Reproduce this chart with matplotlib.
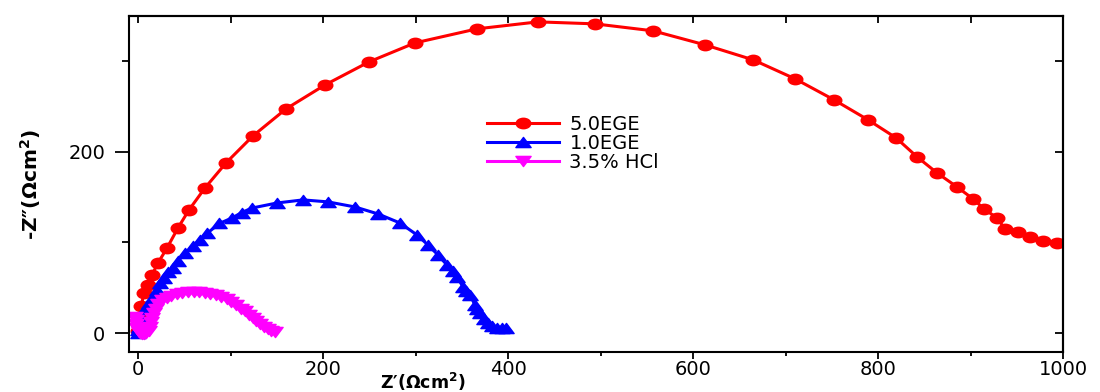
import numpy as np
import matplotlib
matplotlib.use('Agg')
import matplotlib.pyplot as plt
from matplotlib.path import Path
from matplotlib.transforms import Affine2D
from matplotlib.ticker import MultipleLocator

plt.rcParams['font.family'] = ['DejaVu Sans']

# 5.0EGE
x_red = [0, 1, 3, 3.5, 6.5, 10.8, 15.1, 21.6, 31.4, 43.2, 55.1, 72.4, 95.1, 124.3,
         160, 202.2, 249.7, 299.5, 366.5, 432.4, 494, 556.8, 613, 664.9, 710.3,
         752.4, 789.2, 819.5, 842.2, 863.8, 885.4, 902.7, 914.6, 928.6, 937.3,
         951.4, 964.3, 978.4, 993.5]
y_red = [2, 10, 18, 30, 44.2, 53, 64.1, 77.3, 93.9, 116, 135.9, 160.2, 187.8, 217.7,
         247.5, 274, 299.4, 320.4, 335.9, 343.6, 341.4, 333.7, 318.2, 301.7, 280.7,
         257.5, 235.4, 215.5, 194.5, 176.8, 161.3, 148.1, 137, 127.1, 114.9,
         111.6, 106.1, 101.7, 99.4]

# 1.0EGE
x_blue = [0, 0.5, 1, 2, 4, 7.6, 12, 16.2, 20, 23.8, 28, 32.4, 38, 43.2, 51, 59.5, 67,
          74.6, 88, 101.6, 112, 123.2, 150.3, 178.4, 205.4, 234.6, 259.5, 283.2,
          301.6, 313.5, 324.3, 334, 340, 344.9, 351.4, 355, 358.9, 364.3, 367,
          369.7, 374, 378.4, 383, 388, 393.5, 398]
y_blue = [0, 3, 7, 11, 15, 26, 33, 40, 47.5, 55, 61, 67, 72, 80, 88, 96, 103,
          110, 121, 127, 133, 138, 143.6, 147, 144.8, 139.2, 131.5, 121.5,
          108.3, 97.2, 86.2, 75.1, 68, 61.9, 50.8, 46, 42, 30.9, 26, 22.1, 16,
          11, 8, 6, 5.5, 5]

# 3.5% HCl
x_pink = [-3, -2.5, -2, -1, 0, 1, 2, 4, 6, 9, 12, 13.5, 14.5, 15.5, 17, 19, 22, 26,
          31, 36, 42, 48, 54, 60, 66, 72, 78, 84, 90, 96, 101, 106, 111, 116,
          120, 124, 128, 132, 136, 140, 144, 148]
y_pink = [18, 14, 10, 6, 3, 1, 0, -1, -1, 0, 2, 7, 12, 17, 22, 27, 32, 36,
          39, 41, 43, 44, 45, 45, 45, 44, 43, 42, 40, 37, 34, 31, 27, 24,
          20, 17, 13, 10, 7, 4, 2, 1]

labels = ['5.0EGE', '1.0EGE', '3.5% HCl']

# markers in the original look stretched sideways
ellipse = Path.unit_circle().transformed(Affine2D().scale(1.4, 1.0))
tri_up = Path([(0, 0.8), (-1.2, -0.8), (1.2, -0.8), (0, 0.8)], closed=True)
tri_down = Path([(0, -0.8), (-1.2, 0.8), (1.2, 0.8), (0, -0.8)], closed=True)

fig = plt.figure(figsize=(11, 3.92), dpi=100)
ax = fig.add_axes([0.1173, 0.102, 0.8491, 0.857])

ax.plot(x_red, y_red, c='#ff0000', lw=2.2, marker=ellipse, ms=10.5, label=labels[0])
ax.plot(x_blue, y_blue, c='#0000ff', lw=2.2, marker=tri_up, ms=11, label=labels[1])
ax.plot(x_pink, y_pink, c='#ff00ff', lw=2.2, marker=tri_down, ms=11, label=labels[2])

ax.set_xlim(-9.7, 1000)
ax.set_ylim(-21, 350)

ax.xaxis.set_major_locator(MultipleLocator(200))
ax.xaxis.set_minor_locator(MultipleLocator(100))
ax.yaxis.set_major_locator(MultipleLocator(200))
ax.yaxis.set_minor_locator(MultipleLocator(100))

for s in ax.spines.values():
    s.set_linewidth(1.5)

ax.tick_params(axis='x', which='major', direction='out', length=5, width=1.3,
               labelsize=14, pad=1)
ax.tick_params(axis='x', which='minor', direction='out', length=3, width=1.3)
ax.tick_params(axis='y', which='major', direction='out', length=10, width=1.3,
               labelsize=14, pad=7)
ax.tick_params(axis='y', which='minor', direction='out', length=5, width=1.3)

# inward ticks on top and right
top = ax.secondary_xaxis('top')
top.xaxis.set_major_locator(MultipleLocator(100))
top.tick_params(direction='in', length=5, width=1.3, labeltop=False)
top.spines['top'].set_linewidth(1.5)
right = ax.secondary_yaxis('right')
right.yaxis.set_major_locator(MultipleLocator(100))
right.tick_params(direction='in', length=6, width=1.3, labelright=False)
right.spines['right'].set_linewidth(1.5)

# x label squeezed between the 200 and 400 tick labels, there is no room below them
ax.set_xlabel("Z\u2032(\u03a9cm$^\\mathbf{2}$)", fontsize=12.5, fontweight='bold')
ax.xaxis.set_label_coords(0.315, -0.056)
ax.set_ylabel("-Z\u2033(\u03a9cm$^\\mathbf{2}$)", fontsize=14.5, fontweight='bold')
ax.yaxis.set_label_coords(-0.092, 0.5)

ax.legend(loc='upper left', bbox_to_anchor=(0.383, 0.705), frameon=False,
          fontsize=14, handlelength=3.7, handletextpad=0.55, labelspacing=0.0,
          borderpad=0, borderaxespad=0)

fig.savefig('out.png', dpi=100)
